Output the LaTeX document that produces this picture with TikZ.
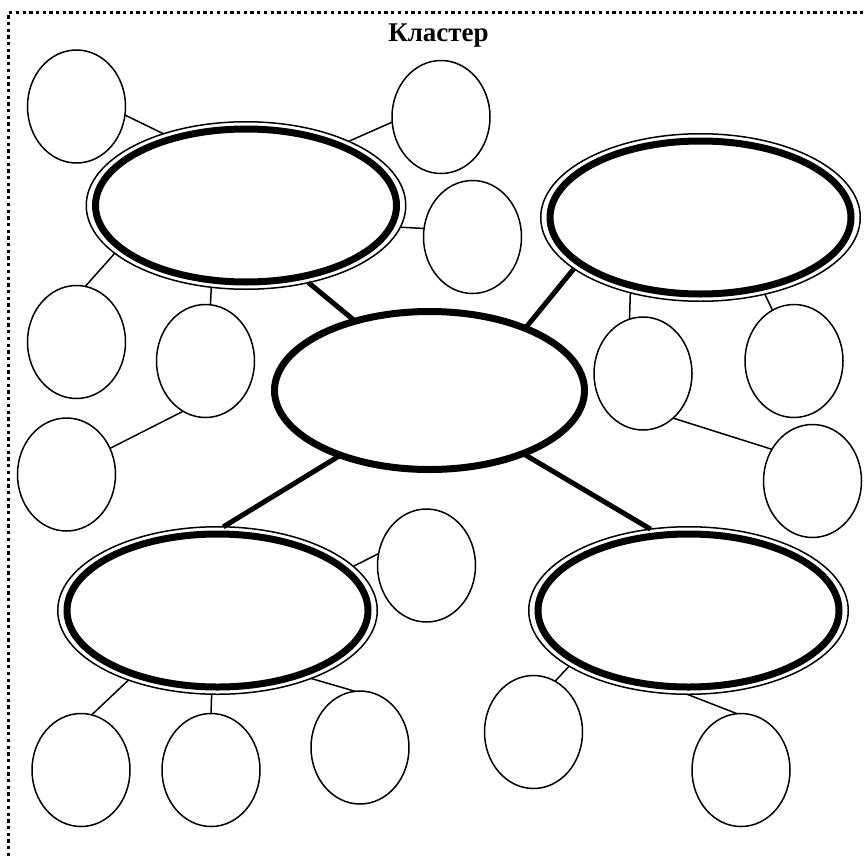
\documentclass[tikz,border=0pt]{standalone}
\usepackage{fontspec}
\setmainfont{Liberation Serif}
\usetikzlibrary{shapes.geometric}
\tikzset{
  sm/.style={ellipse, draw, line width=1.5pt, minimum width=98pt, minimum height=113pt, inner sep=0pt, outer sep=0pt},
  big/.style={ellipse, draw, line width=1.5pt, minimum width=319.5pt, minimum height=167.5pt, inner sep=0pt, outer sep=0pt},
  core/.style={ellipse, draw, line width=7pt, minimum width=310pt, minimum height=158pt, inner sep=0pt, outer sep=0pt},
  ring/.style={line width=7pt},
  thinlink/.style={line width=1.5pt},
  thicklink/.style={line width=5pt},
  dotborder/.style={line width=3.5pt, dash pattern=on 3.3pt off 3.4pt}
}
\begin{document}
\begin{tikzpicture}[x=1pt,y=-1pt]
\useasboundingbox (0,0) rectangle (866,856);
\draw[dotborder] (8.5,856) -- (8.5,12.5) -- (866,12.5);
\node[font=\bfseries\fontsize{27}{32}\selectfont, anchor=base] (title) at (438.5,42) {Кластер};
% big nodes
\node[big] (A) at (246,205.5) {};
\node[big] (B) at (700.5,217.5) {};
\node[big] (D) at (217.5,610.5) {};
\node[big] (E) at (688.5,610.5) {};
\foreach \n in {A,B,D,E}
  \draw[ring] (\n.center) ellipse [x radius=150.5, y radius=76.5];
\node[core] (C) at (429.5,390.5) {};
% small nodes
\node[sm] (s1) at (76.5,106.5) {};
\node[sm] (s2) at (441,117) {};
\node[sm] (s3) at (472.5,237) {};
\node[sm] (s4) at (76.5,342) {};
\node[sm] (s5) at (205.5,361) {};
\node[sm] (s6) at (66.5,474.5) {};
\node[sm] (s7) at (643,373.5) {};
\node[sm] (s8) at (794,361) {};
\node[sm] (s9) at (812.5,481) {};
\node[sm] (s10) at (426.5,565.5) {};
\node[sm] (s11) at (81,770) {};
\node[sm] (s12) at (211,770) {};
\node[sm] (s13) at (360,747.5) {};
\node[sm] (s14) at (533.5,732) {};
\node[sm] (s15) at (741,770) {};
% thick links
\draw[thicklink] (A.-51.5) -- (C.137.6);
\draw[thicklink] (B.-158.5) -- (C.33.6);
\draw[thicklink] (C.-144.5) -- (D.86.2);
\draw[thicklink] (C.-34.3) -- (E.115.8);
% thin links
\draw[thinlink] (s1.-10.1) -- (A.139.5);
\draw[thinlink] (s2.-174.2) -- (A.32);
\draw[thinlink] (s3.170.6) -- (A.-8.6);
\draw[thinlink] (s4.81.4) -- (A.-160);
\draw[thinlink] (s5.85.4) -- (A.-113.8);
\draw[thinlink] (s6.31.6) -- (s5.-114.7);
\draw[thinlink] (s7.104.6) -- (B.-133.7);
\draw[thinlink] (s8.113.9) -- (B.-50.7);
\draw[thinlink] (s7.-56) -- (s9.142.4);
\draw[thinlink] (s10.166.7) -- (D.18.9);
\draw[thinlink] (D.-142.5) -- (s11.79.1);
\draw[thinlink] (D.-94.4) -- (s12.90);
\draw[thinlink] (D.-36.6) -- (s13.95.1);
\draw[thinlink] (E.-155.5) -- (s14.67.5);
\draw[thinlink] (E.-91) -- (s15.94);
\end{tikzpicture}
\end{document}
